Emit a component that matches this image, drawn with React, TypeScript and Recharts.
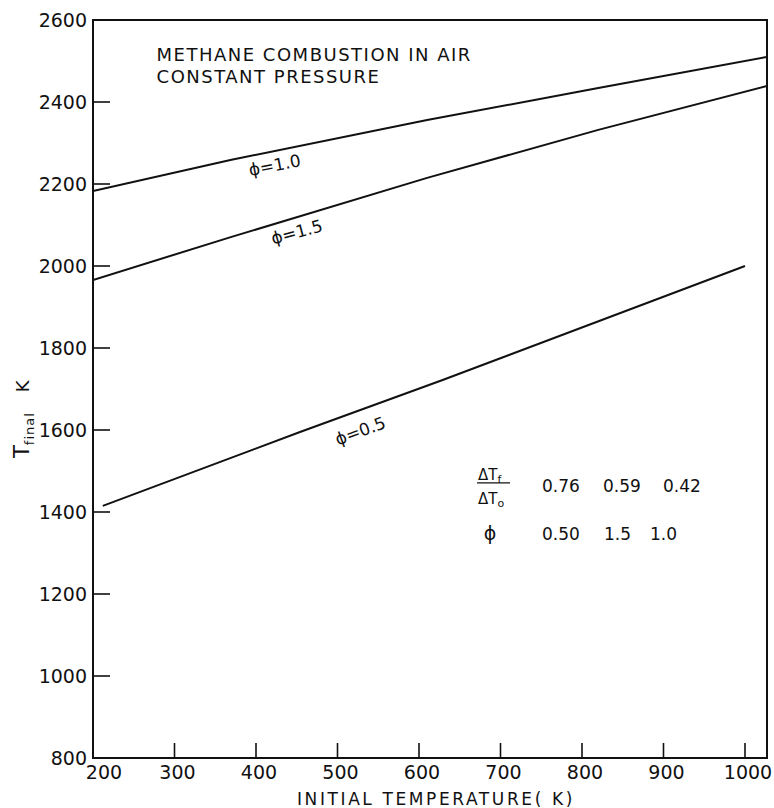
import React from 'react';
import { LineChart, Line, XAxis, YAxis, ReferenceArea, ReferenceDot } from 'recharts';

const FONT = '"DejaVu Sans", "Liberation Sans", sans-serif';
const INK = '#111';

// Initial temperature (K) and final flame temperature (K) for each equivalence ratio
const initialTempPhi10 = [200, 370, 610, 820, 1027];
const finalTempPhi10 = [2183, 2259, 2356, 2434, 2510];

const initialTempPhi15 = [200, 370, 610, 820, 1027];
const finalTempPhi15 = [1966, 2071, 2215, 2332, 2439];

const initialTempPhi05 = [212, 454, 629, 1000];
const finalTempPhi05 = [1415, 1595, 1722, 2000];

const xTicks = [200, 300, 400, 500, 600, 700, 800, 900, 1000];
const yTicks = [800, 1000, 1200, 1400, 1600, 1800, 2000, 2200, 2400, 2600];

// Sensitivity table: dTf/dTo for each phi
const tablePhi = ['0.50', '1.5', '1.0'];
const tableRatio = ['0.76', '0.59', '0.42'];

const toPoints = (xs: number[], ys: number[]) => xs.map((t, i) => ({ t, T: ys[i] }));

const phi10 = toPoints(initialTempPhi10, finalTempPhi10);
const phi15 = toPoints(initialTempPhi15, finalTempPhi15);
const phi05 = toPoints(initialTempPhi05, finalTempPhi05);

const XTick = (props: any) => {
  const { x, y, payload } = props;
  const v = payload.value;
  return (
    <g>
      {v !== 200 && <line x1={x} y1={y} x2={x} y2={y - 15} stroke={INK} strokeWidth={1.6} />}
      <text x={x + (v === 200 ? 11 : 3)} y={y + 21} textAnchor="middle" fontFamily={FONT} fontSize={19} fill={INK}>
        {v}
      </text>
    </g>
  );
};

const YTick = (props: any) => {
  const { x, y, payload } = props;
  const v = payload.value;
  const inner = v !== 800 && v !== 2600;
  return (
    <g>
      {inner && <line x1={x} y1={y} x2={x + 17} y2={y} stroke={INK} strokeWidth={1.6} />}
      <text x={x - 6} y={y + 7} textAnchor="end" fontFamily={FONT} fontSize={19} fill={INK}>
        {v}
      </text>
    </g>
  );
};

const PhiLabel = ({ cx, cy, text, angle }: any) => (
  <text
    x={cx}
    y={cy}
    textAnchor="middle"
    dominantBaseline="central"
    transform={`rotate(${angle}, ${cx}, ${cy})`}
    fontFamily={FONT}
    fontSize={17}
    fill={INK}
  >
    {text}
  </text>
);

const Title = ({ cx, cy }: any) => (
  <g fontFamily={FONT} fontSize={18} fill={INK} letterSpacing={1.5}>
    <text x={cx} y={cy}>METHANE COMBUSTION IN AIR</text>
    <text x={cx} y={cy + 22}>CONSTANT PRESSURE</text>
  </g>
);

const SensitivityTable = ({ cx, cy }: any) => {
  const cols = [0, 61, 121];
  const colsPhi = [0, 62, 108];
  return (
    <g fontFamily={FONT} fill={INK}>
      <text x={cx - 64} y={cy - 12} fontSize={15}>
        ΔT<tspan fontSize={11} dy={3}>f</tspan>
      </text>
      <line x1={cx - 65} y1={cy - 9} x2={cx - 32} y2={cy - 9} stroke={INK} strokeWidth={1.3} />
      <text x={cx - 64} y={cy + 12} fontSize={15}>
        ΔT<tspan fontSize={11} dy={3}>o</tspan>
      </text>
      {tableRatio.map((r, i) => (
        <text key={r} x={cx + cols[i]} y={cy} fontSize={17}>{r}</text>
      ))}
      <text x={cx - 52} y={cy + 48} fontSize={19} textAnchor="middle">ϕ</text>
      {tablePhi.map((p, i) => (
        <text key={p} x={cx + colsPhi[i]} y={cy + 48} fontSize={17}>{p}</text>
      ))}
    </g>
  );
};

export default function App() {
  return (
    <div style={{ position: 'absolute', left: 0, top: 0, background: '#fff' }}>
      <LineChart width={774} height={808} margin={{ top: 20, right: 7, left: 0, bottom: 0 }}>
        <XAxis
          dataKey="t"
          type="number"
          domain={[200, 1027]}
          ticks={xTicks}
          allowDataOverflow
          height={50}
          tickSize={0}
          tickMargin={0}
          tickLine={false}
          axisLine={{ stroke: INK, strokeWidth: 2 }}
          tick={<XTick />}
          interval={0}
          label={{
            content: ({ viewBox }: any) => (
              <text
                x={viewBox.x + 204}
                y={viewBox.y + 47}
                fontFamily={FONT}
                fontSize={17}
                letterSpacing={2.6}
                fill={INK}
              >
                INITIAL TEMPERATURE( K)
              </text>
            ),
          }}
        />
        <YAxis
          type="number"
          domain={[800, 2600]}
          ticks={yTicks}
          allowDataOverflow
          width={93}
          tickSize={0}
          tickMargin={0}
          tickLine={false}
          axisLine={{ stroke: INK, strokeWidth: 2 }}
          tick={<YTick />}
          interval={0}
          label={{
            content: () => (
              <text
                x={29}
                y={458}
                transform="rotate(-90, 29, 458)"
                fontFamily={FONT}
                fontSize={21}
                fill={INK}
              >
                T
                <tspan fontSize={13} dy={5} letterSpacing={1}>final</tspan>
                <tspan fontSize={18} dy={-5} dx={20}>K</tspan>
              </text>
            ),
          }}
        />
        <ReferenceArea x1={200} x2={1027} y1={800} y2={2600} fill="none" stroke={INK} strokeWidth={2} />
        <Line data={phi10} dataKey="T" stroke={INK} strokeWidth={2} dot={false} isAnimationActive={false} />
        <Line data={phi15} dataKey="T" stroke={INK} strokeWidth={2} dot={false} isAnimationActive={false} />
        <Line data={phi05} dataKey="T" stroke={INK} strokeWidth={2} dot={false} isAnimationActive={false} />
        <ReferenceDot x={423} y={2246} r={0} shape={(p: any) => <PhiLabel {...p} text="ϕ=1.0" angle={-11} />} />
        <ReferenceDot x={450} y={2083} r={0} shape={(p: any) => <PhiLabel {...p} text="ϕ=1.5" angle={-15} />} />
        <ReferenceDot x={528} y={1598} r={0} shape={(p: any) => <PhiLabel {...p} text="ϕ=0.5" angle={-20} />} />
        <ReferenceDot x={278} y={2500} r={0} shape={(p: any) => <Title {...p} />} />
        <ReferenceDot x={751} y={1449} r={0} shape={(p: any) => <SensitivityTable {...p} />} />
      </LineChart>
    </div>
  );
}
